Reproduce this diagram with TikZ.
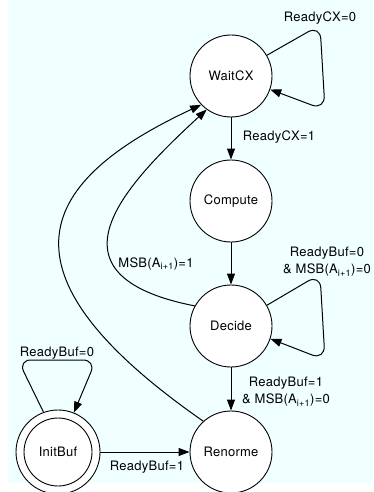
\documentclass[tikz,border=0pt]{standalone}
\usepackage{fontspec}
\setmainfont{TeX Gyre Heros}[LetterSpace=2]
\usetikzlibrary{arrows.meta}
\definecolor{bgcyan}{RGB}{240,255,255}
\begin{document}
\begin{tikzpicture}[x=1pt,y=-1pt,
  state/.style={circle,draw,fill=white,line width=0.9pt,minimum size=82pt,
    inner sep=0pt,font=\fontsize{13}{15}\selectfont},
  trans/.style={line width=1pt,-{Triangle[length=11pt,width=8pt]}},
  lbl/.style={font=\fontsize{13}{17}\selectfont,inner sep=0pt,align=center}]
\useasboundingbox (0,0) rectangle (374,492);
\fill[bgcyan] (8,0) rectangle (374,483);

% states
\node[state] (WaitCX)  at (231,76)  {WaitCX};
\node[state] (Compute) at (231,201) {Compute};
\node[state] (Decide)  at (231,326) {Decide};
\node[state] (Renorme) at (231,452) {Renorme};
\node[state,minimum size=84pt] (InitBuf) at (58,452) {InitBuf};
\draw[line width=0.9pt] (InitBuf.center) circle (34);

% straight transitions
\draw[trans] (WaitCX) -- (Compute);
\draw[trans] (Compute) -- (Decide);
\draw[trans] (Decide) -- (Renorme);
\draw[trans] (InitBuf) -- (Renorme);

% self loops
\draw[trans,rounded corners=14pt] (WaitCX.30) -- (320,25) -- (325,110) -- (WaitCX.-19);
\draw[trans,rounded corners=14pt] (Decide.30) -- (320,274) -- (325,360) -- (Decide.-18);
\draw[trans,rounded corners=13pt] (InitBuf.110) -- (18,360) -- (96,360) -- (InitBuf.68);

% back edges to WaitCX
\draw[trans] (Decide.151) .. controls (38,275) and (125,185) .. (WaitCX.234);
\draw[trans] (Renorme.132) .. controls (-14,270) and (40,180) .. (WaitCX.224);

% labels
\node[lbl] (l1) at (320,18)  {ReadyCX=0};
\node[lbl] (l2) at (279,137) {ReadyCX=1};
\node[lbl] (l3) at (327,262) {ReadyBuf=0\\\& MSB(A\textsubscript{i+1})=0};
\node[lbl] (l4) at (156,264) {MSB(A\textsubscript{i+1})=1};
\node[lbl] (l5) at (286,392) {ReadyBuf=1\\\& MSB(A\textsubscript{i+1})=0};
\node[lbl] (l6) at (57,353)  {ReadyBuf=0};
\node[lbl] (l7) at (147,467) {ReadyBuf=1};
\end{tikzpicture}
\end{document}
